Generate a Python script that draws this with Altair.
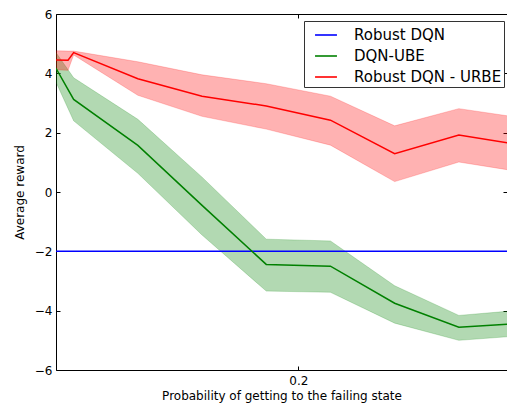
import altair as alt
import pandas as pd

# ---- data ----
series_names = ["Robust DQN", "DQN-UBE", "Robust DQN - URBE"]
series_colors = ["#0000ff", "#008000", "#ff0000"]

red_x = [0.049, 0.0565, 0.06, 0.10, 0.14, 0.18, 0.22, 0.26, 0.30, 0.335]
red_mean = [4.45, 4.44, 4.70, 3.82, 3.23, 2.90, 2.42, 1.29, 1.92, 1.62]
red_upper = [4.76, 4.75, 4.75, 4.39, 3.95, 3.65, 3.23, 2.23, 2.81, 2.53]
red_lower = [4.12, 4.10, 4.62, 3.26, 2.55, 2.12, 1.58, 0.35, 1.01, 0.71]

green_x = [0.049, 0.06, 0.10, 0.14, 0.18, 0.22, 0.26, 0.30, 0.335]
green_mean = [4.17, 3.12, 1.57, -0.45, -2.44, -2.50, -3.75, -4.56, -4.44]
green_upper = [4.70, 3.85, 2.45, 0.50, -1.59, -1.65, -3.16, -4.16, -4.00]
green_lower = [3.70, 2.40, 0.63, -1.45, -3.34, -3.38, -4.42, -5.00, -4.86]

blue_x = [0.049, 0.335]
blue_y = [-2.0, -2.0]

x_domain = [0.049, 0.33]
y_domain = [-6, 6]
y_ticks = [-6, -4, -2, 0, 2, 4, 6]
x_ticks = [0.2]

# ---- tables ----
bands = pd.concat([
    pd.DataFrame({"x": green_x, "lo": green_lower, "hi": green_upper, "series": "DQN-UBE"}),
    pd.DataFrame({"x": red_x, "lo": red_lower, "hi": red_upper, "series": "Robust DQN - URBE"}),
])
lines = pd.concat([
    pd.DataFrame({"x": green_x, "y": green_mean, "series": "DQN-UBE"}),
    pd.DataFrame({"x": red_x, "y": red_mean, "series": "Robust DQN - URBE"}),
])
blue = pd.DataFrame({"x": blue_x, "y": blue_y, "series": "Robust DQN"})

W, H = 451, 356
FONT = "DejaVu Sans"

xs = alt.Scale(domain=x_domain, nice=False, zero=False)
ys = alt.Scale(domain=y_domain, nice=False, zero=False)
color_scale = alt.Scale(domain=series_names, range=series_colors)
band_scale = alt.Scale(domain=["DQN-UBE", "Robust DQN - URBE"], range=["#008000", "#ff0000"])

# layer A: bands + labelled axes (left and bottom frame lines)
band_layer = alt.Chart(bands).mark_area(fillOpacity=0.3, strokeOpacity=0.2, strokeWidth=1, clip=True).encode(
    x=alt.X("x:Q", scale=xs, axis=alt.Axis(orient="bottom", values=x_ticks, format=".1f", ticks=False,
                                           domain=True, domainColor="black", domainWidth=1, grid=False,
                                           labelFontSize=12, labelPadding=5,
                                           labelColor="black", title="Probability of getting to the failing state",
                                           titleFontSize=12, titleFontWeight="normal", titlePadding=4,
                                           titleColor="black", labelFont=FONT, titleFont=FONT)),
    y=alt.Y("lo:Q", scale=ys, axis=alt.Axis(orient="left", values=y_ticks, ticks=False, domain=True,
                                            domainColor="black", domainWidth=1,
                                            grid=False, labelFontSize=12, labelPadding=4, labelColor="black",
                                            title="Average reward", titleFontSize=12, titleFontWeight="normal",
                                            titlePadding=8, titleColor="black", labelFont=FONT, titleFont=FONT)),
    y2="hi:Q",
    fill=alt.Fill("series:N", scale=band_scale, legend=None),
    stroke=alt.Stroke("series:N", scale=band_scale, legend=None),
    detail="series:N",
)

legend = alt.Legend(title=None, orient="none", legendX=248, legendY=7, symbolType="stroke",
                    symbolSize=480, symbolStrokeWidth=1.6, symbolOffset=8, labelOffset=16,
                    labelFontSize=15, labelFont=FONT, labelColor="black", padding=2, rowPadding=1,
                    strokeColor="#333333", fillColor="white")

# layer B: mean lines, inward ticks on left and bottom edges
line_layer = alt.Chart(lines).mark_line(strokeWidth=1.5, clip=True).encode(
    x=alt.X("x:Q", scale=xs, axis=alt.Axis(orient="top", offset=-H, values=x_ticks, labels=False,
                                           domain=False, grid=False, ticks=True, tickSize=4,
                                           tickColor="black", title="")),
    y=alt.Y("y:Q", scale=ys, axis=alt.Axis(orient="right", offset=-W, values=y_ticks, labels=False,
                                           domain=False, grid=False, ticks=True, tickSize=4,
                                           tickColor="black", title="")),
    color=alt.Color("series:N", scale=color_scale, legend=legend, sort=series_names),
)

# layer C: Robust DQN line, inward ticks + frame line on the top edge
blue_layer = alt.Chart(blue).mark_line(strokeWidth=1.5, clip=True).encode(
    x=alt.X("x:Q", scale=xs, axis=alt.Axis(orient="bottom", offset=-H, values=x_ticks, labels=False,
                                           domain=True, domainColor="black", domainWidth=1,
                                           grid=False, ticks=True, tickSize=4,
                                           tickColor="black", title="")),
    y=alt.Y("y:Q", scale=ys, axis=alt.Axis(orient="left", offset=-W, values=y_ticks, labels=False,
                                           domain=False, grid=False, ticks=True, tickSize=4,
                                           tickColor="black", title="")),
    color=alt.Color("series:N", scale=color_scale, legend=legend, sort=series_names),
)

chart = alt.layer(band_layer, blue_layer, line_layer).resolve_axis(
    x="independent", y="independent"
).resolve_scale(fill="independent", stroke="independent").properties(
    width=W, height=H,
    autosize=alt.AutoSizeParams(type="none"),
    padding={"left": 48, "top": 6, "right": 0, "bottom": 34},
).configure_view(strokeWidth=0).configure(background="white")

chart.save("out.html", embed_options={"renderer": "svg", "actions": False})
